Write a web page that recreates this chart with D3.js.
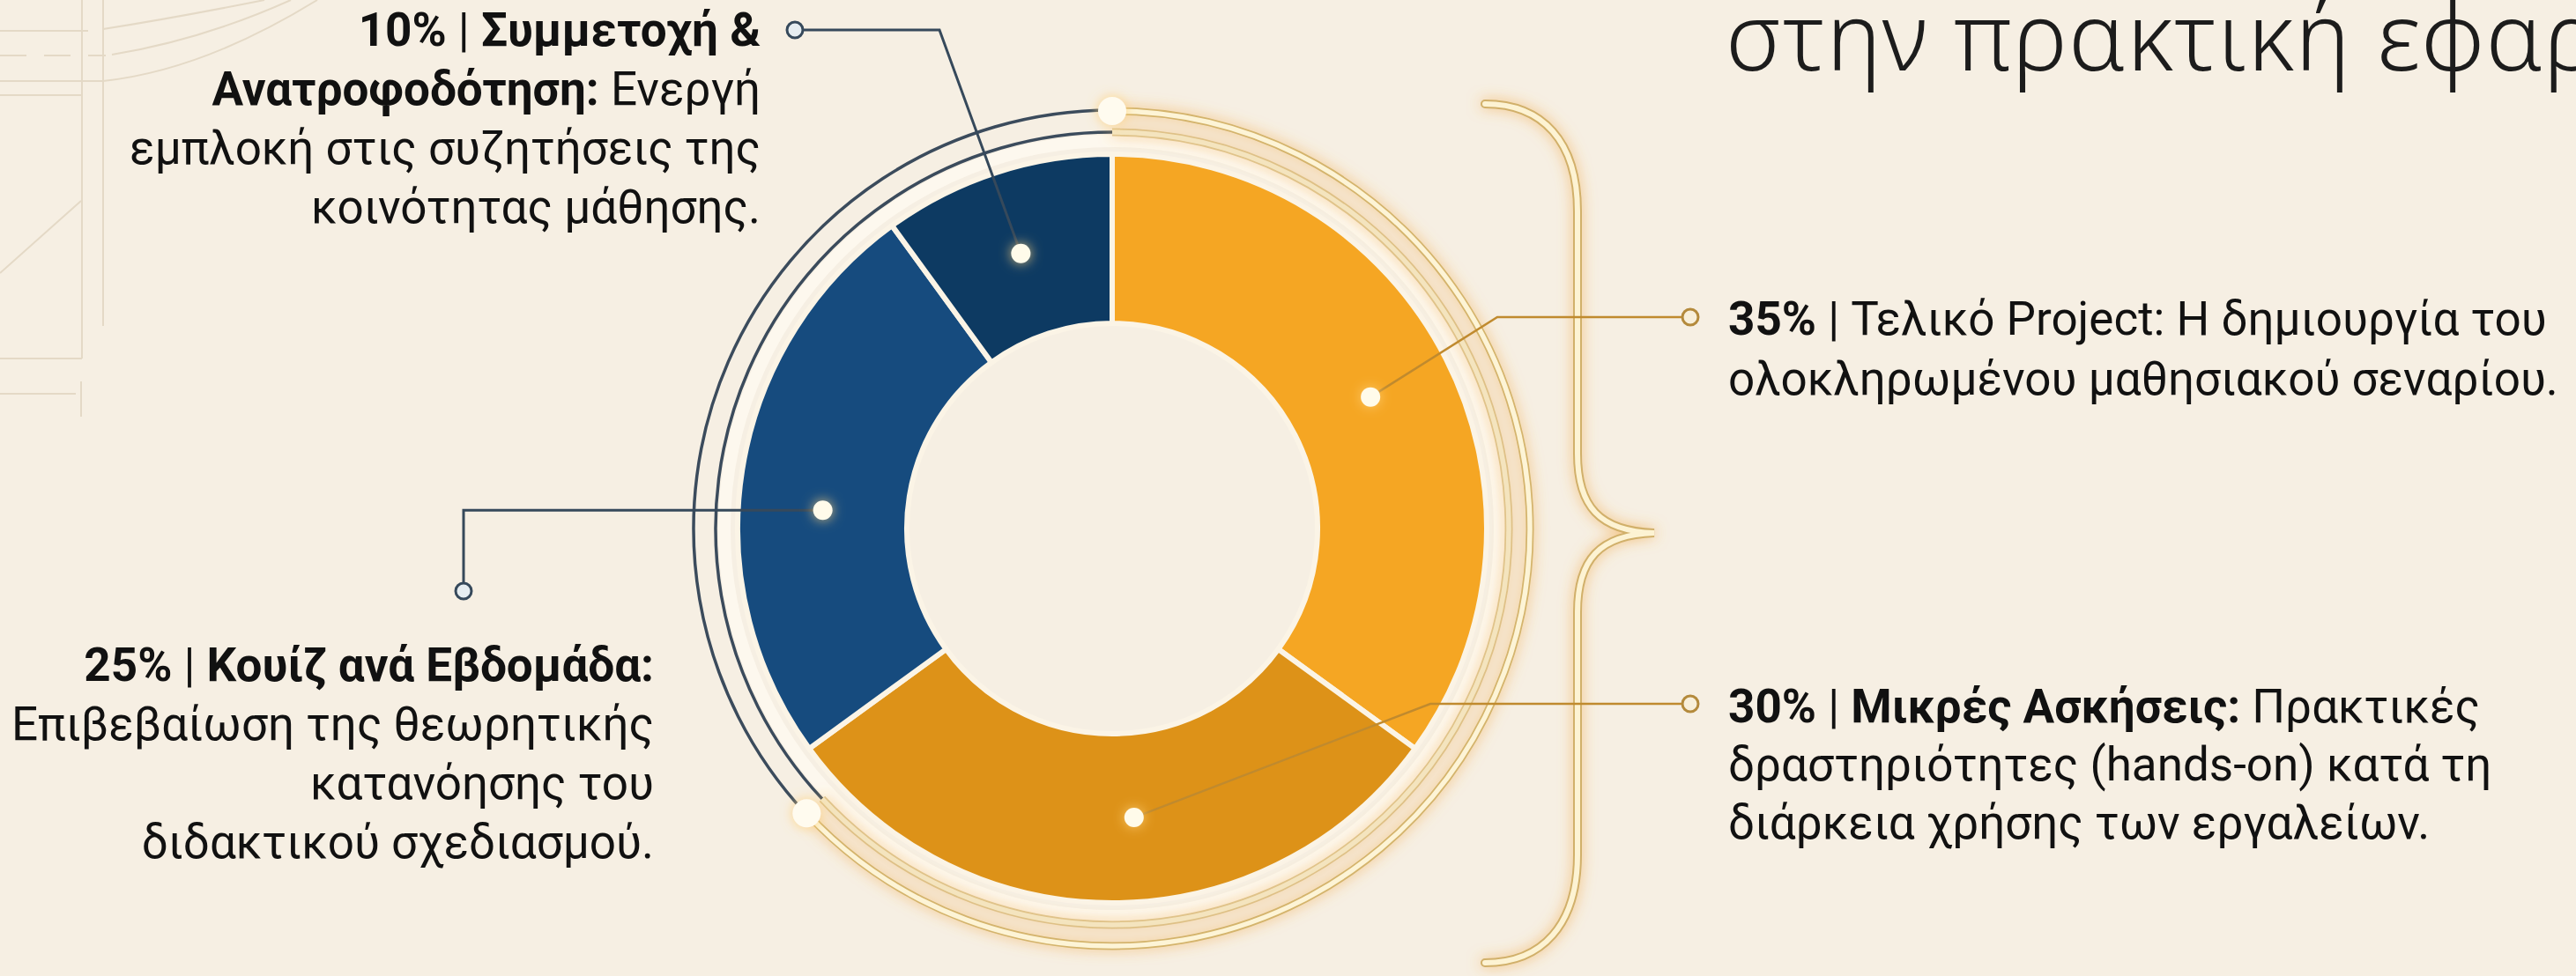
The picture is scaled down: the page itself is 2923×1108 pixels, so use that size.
<!DOCTYPE html>
<html>
<head>
<meta charset="utf-8">
<script src="https://cdn.jsdelivr.net/npm/d3@7"></script>
<style>
  html, body { margin: 0; padding: 0; background: #f6efe3; overflow: hidden; }
  svg { display: block; }
</style>
</head>
<body>
<svg id="chart"></svg>
<script>
// shares of the final grade, clockwise from 12 o'clock
const names = ["Τελικό Project", "Μικρές Ασκήσεις", "Κουίζ ανά Εβδομάδα", "Συμμετοχή & Ανατροφοδότηση"];
const shares = [35, 30, 25, 10];
const colors = ["#f5a623", "#dd9218", "#164b7e", "#0d3a62"];

// label text, one array of [text, bold] runs per line
const label35 = [
    [["35%", true], [" | Τελικό Project: Η δημιουργία του", false]],
    [["ολοκληρωμένου μαθησιακού σεναρίου.", false]]
];
const label30 = [
    [["30%", true], [" | ", false], ["Μικρές Ασκήσεις:", true], [" Πρακτικές", false]],
    [["δραστηριότητες (hands-on) κατά τη", false]],
    [["διάρκεια χρήσης των εργαλείων.", false]]
];
const label25 = [
    [["25%", true], [" | ", false], ["Κουίζ ανά Εβδομάδα:", true]],
    [["Επιβεβαίωση της θεωρητικής", false]],
    [["κατανόησης του", false]],
    [["διδακτικού σχεδιασμού.", false]]
];
const label10 = [
    [["10%", true], [" | ", false], ["Συμμετοχή &", true]],
    [["Ανατροφοδότηση:", true], [" Ενεργή", false]],
    [["εμπλοκή στις συζητήσεις της", false]],
    [["κοινότητας μάθησης.", false]]
];
const titleText = "στην πρακτική εφαρμογή";

const width = 2923, height = 1108;
const cx = 1262, cy = 600;
const rInner = 233, rOuter = 425;

let svg = d3.select("#chart").attr("width", width).attr("height", height);

let defs = svg.append("defs");
let glow = defs.append("filter").attr("id", "glow")
    .attr("x", "-30%").attr("y", "-30%").attr("width", "160%").attr("height", "160%");
glow.append("feGaussianBlur").attr("in", "SourceAlpha").attr("stdDeviation", 8).attr("result", "b");
glow.append("feFlood").attr("flood-color", "#f2a33a").attr("flood-opacity", 0.6);
glow.append("feComposite").attr("in2", "b").attr("operator", "in").attr("result", "g");
let gm = glow.append("feMerge");
gm.append("feMergeNode").attr("in", "g");
gm.append("feMergeNode").attr("in", "SourceGraphic");

let dotGlow = defs.append("filter").attr("id", "dotglow")
    .attr("x", "-150%").attr("y", "-150%").attr("width", "400%").attr("height", "400%");
dotGlow.append("feGaussianBlur").attr("in", "SourceAlpha").attr("stdDeviation", 7).attr("result", "b");
dotGlow.append("feFlood").attr("flood-color", "#ffd27a").attr("flood-opacity", 0.85);
dotGlow.append("feComposite").attr("in2", "b").attr("operator", "in").attr("result", "g");
let dm = dotGlow.append("feMerge");
dm.append("feMergeNode").attr("in", "g");
dm.append("feMergeNode").attr("in", "SourceGraphic");

svg.append("rect").attr("width", width).attr("height", height).attr("fill", "#f6efe3");

// faint blueprint lines, top left
let deco = svg.append("g").attr("fill", "none").attr("stroke", "#e4d9c6").attr("stroke-width", 2);
deco.append("path").attr("d", "M0,35H100 M0,92H117 M0,108H93 M93,0V407 M117,0V370 M0,407H93 M0,447H86 M92,433V473 M0,310L92,228");
deco.append("path").attr("d", "M117,33 Q200,20 300,0 M127,62 Q230,45 330,0 M117,92 Q230,80 360,0");
deco.append("path").attr("stroke-dasharray", "30 20").attr("d", "M0,63H120");

// donut
let pie = d3.pie().sort(null).value(d => d);
let arcs = pie(shares);
let arc = d3.arc().innerRadius(rInner).outerRadius(rOuter);

let g = svg.append("g").attr("transform", `translate(${cx},${cy})`);

// soft halo between donut and ring
g.append("circle").attr("r", 440).attr("fill", "none")
    .attr("stroke", "#fffaf0").attr("stroke-width", 14).attr("opacity", 0.8);

g.selectAll(".slice")
    .data(arcs)
    .enter().append("path")
    .attr("class", "slice")
    .attr("d", arc)
    .attr("fill", (d, i) => colors[i])
    .attr("stroke", "#fbf4e6")
    .attr("stroke-width", 6);

// helper: point at clock angle a (radians from 12 o'clock) and radius r
function polar(a, r) { return [r * Math.sin(a), -r * Math.cos(a)]; }
function ringPath(r, a0, a1) {
    let p = d3.path();
    let s = polar(a0, r);
    p.moveTo(s[0], s[1]);
    p.arc(0, 0, r, a0 - Math.PI / 2, a1 - Math.PI / 2, a1 < a0);
    return p.toString();
}

let ringSplit = 227 * Math.PI / 180;

// navy double arc on the left
[475, 450].forEach(r => {
    g.append("path").attr("d", ringPath(r, ringSplit, 2 * Math.PI))
        .attr("fill", "none").attr("stroke", "#3b4b5c").attr("stroke-width", 3.5);
});

// golden ring on the right
let ring = g.append("g").attr("filter", "url(#glow)");
[[474, 1], [450, 0.7]].forEach(([r, op]) => {
    ring.append("path").attr("d", ringPath(r, 0, ringSplit))
        .attr("fill", "none").attr("stroke", "#d4b46c").attr("stroke-width", 9).attr("opacity", op);
    ring.append("path").attr("d", ringPath(r, 0, ringSplit))
        .attr("fill", "none").attr("stroke", "#fdf4d6").attr("stroke-width", 5.5).attr("opacity", op);
});
[0, ringSplit].forEach(a => {
    let p = polar(a, 474);
    g.append("circle").attr("cx", p[0]).attr("cy", p[1]).attr("r", 16)
        .attr("fill", "#fffbef").attr("filter", "url(#dotglow)");
});

// brace
let brace = "M1685,118 C1750,118 1790,160 1790,240 L1790,515 C1790,575 1815,603 1877,605 " +
    "C1815,607 1790,635 1790,695 L1790,970 C1790,1050 1750,1093 1685,1093";
let bg = svg.append("g").attr("filter", "url(#glow)").attr("fill", "none").attr("stroke-linecap", "round");
bg.append("path").attr("d", brace).attr("stroke", "#d1b06a").attr("stroke-width", 10);
bg.append("path").attr("d", brace).attr("stroke", "#fdf3d3").attr("stroke-width", 6);

// callouts: where on each slice the dot sits, and where its label goes
const anchorT = [0.5, 0.46, 0.44, 0.49];
const anchorR = 329;
const callouts = [
    { lines: label35, x: 1961, y: 380, lh: 68, align: "start", elbow: [1699, 360], marker: [1918, 360], dark: false },
    { lines: label30, x: 1961, y: 820, lh: 66, align: "start", elbow: [1623, 799], marker: [1918, 799], dark: false },
    { lines: label25, x: 742, y: 773, lh: 67, align: "end", elbow: [526, null], marker: [526, 671], dark: true },
    { lines: label10, x: 863, y: 52, lh: 67, align: "end", elbow: [1066, 34], marker: [902, 34], dark: true }
];

arcs.forEach((d, i) => {
    let c = callouts[i];
    let a = d.startAngle + (d.endAngle - d.startAngle) * anchorT[i];
    let p = polar(a, anchorR);
    let dot = [cx + p[0], cy + p[1]];
    let elbow = [c.elbow[0], c.elbow[1] === null ? dot[1] : c.elbow[1]];
    let lineColor = c.dark ? "#36495b" : "#c08a2e";

    svg.append("path")
        .attr("d", d3.line()([dot, elbow, c.marker]))
        .attr("fill", "none")
        .attr("stroke", lineColor)
        .attr("stroke-width", c.dark ? 3 : 2.5);

    svg.append("circle")
        .attr("cx", c.marker[0]).attr("cy", c.marker[1]).attr("r", 9)
        .attr("fill", c.dark ? "#e6edf1" : "#f8efda")
        .attr("stroke", c.dark ? "#36495b" : "#b48a3c")
        .attr("stroke-width", 3);

    svg.append("circle")
        .attr("cx", dot[0]).attr("cy", dot[1]).attr("r", 11)
        .attr("fill", "#fffbea")
        .attr("filter", "url(#dotglow)");

    let t = svg.append("text")
        .attr("text-anchor", c.align)
        .style("font-family", "Roboto, 'Noto Sans', sans-serif")
        .style("font-size", "53px")
        .attr("fill", "#111111");
    c.lines.forEach((runs, li) => {
        runs.forEach((run, ri) => {
            let ts = t.append("tspan").text(run[0])
                .style("font-weight", run[1] ? 700 : 400)
                .style("white-space", "pre");
            if (ri === 0) ts.attr("x", c.x).attr("y", c.y + li * c.lh);
        });
    });
});

// title fragment, cut off on the right as in the source
svg.append("text")
    .attr("x", 1958).attr("y", 80)
    .style("font-family", "'Noto Sans', sans-serif")
    .style("font-weight", 300)
    .style("font-size", "106px")
    .style("letter-spacing", "1.5px")
    .attr("fill", "#1c1c1c")
    .text(titleText);
</script>
</body>
</html>
